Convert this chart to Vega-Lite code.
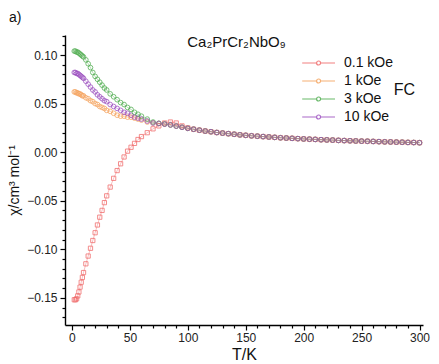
{
  "$schema": "https://vega.github.io/schema/vega-lite/v6.json",
  "width": 358,
  "height": 290,
  "autosize": {"type": "none"},
  "padding": {"left": 65, "top": 35, "right": 16, "bottom": 39},
  "config": {
    "font": "Liberation Sans",
    "view": {"stroke": null},
    "axis": {"grid": false, "domainColor": "#000", "domainWidth": 1.4, "tickColor": "#000", "tickWidth": 1.2, "labelColor": "#222", "labelFontSize": 12, "titleColor": "#111", "titleFontWeight": "normal"}
  },
  "title": {"text": "a)", "anchor": "start", "frame": "group", "dx": -56, "offset": 10, "fontSize": 14, "fontWeight": "normal", "color": "#111"},
  "datasets": {
    "chi": [
      {"T": 2, "a": -0.152, "b": 0.062, "c": 0.104, "d": 0.082},
      {"T": 3, "a": -0.152, "b": 0.062, "c": 0.104, "d": 0.082},
      {"T": 4, "a": -0.151, "b": 0.061, "c": 0.103, "d": 0.081},
      {"T": 5, "a": -0.148, "b": 0.061, "c": 0.103, "d": 0.081},
      {"T": 6, "a": -0.144, "b": 0.060, "c": 0.102, "d": 0.080},
      {"T": 7, "a": -0.139, "b": 0.060, "c": 0.101, "d": 0.079},
      {"T": 8, "a": -0.134, "b": 0.059, "c": 0.100, "d": 0.078},
      {"T": 9, "a": -0.129, "b": 0.058, "c": 0.099, "d": 0.077},
      {"T": 10, "a": -0.124, "b": 0.058, "c": 0.098, "d": 0.076},
      {"T": 12, "a": -0.115, "b": 0.056, "c": 0.095, "d": 0.073},
      {"T": 14, "a": -0.107, "b": 0.055, "c": 0.091, "d": 0.070},
      {"T": 16, "a": -0.099, "b": 0.053, "c": 0.087, "d": 0.067},
      {"T": 18, "a": -0.091, "b": 0.052, "c": 0.082, "d": 0.064},
      {"T": 20, "a": -0.083, "b": 0.050, "c": 0.078, "d": 0.062},
      {"T": 22, "a": -0.075, "b": 0.049, "c": 0.075, "d": 0.059},
      {"T": 24, "a": -0.067, "b": 0.047, "c": 0.072, "d": 0.057},
      {"T": 26, "a": -0.060, "b": 0.046, "c": 0.069, "d": 0.055},
      {"T": 28, "a": -0.052, "b": 0.045, "c": 0.066, "d": 0.053},
      {"T": 30, "a": -0.045, "b": 0.043, "c": 0.064, "d": 0.052},
      {"T": 33, "a": -0.036, "b": 0.042, "c": 0.060, "d": 0.049},
      {"T": 36, "a": -0.027, "b": 0.040, "c": 0.057, "d": 0.047},
      {"T": 39, "a": -0.019, "b": 0.038, "c": 0.054, "d": 0.045},
      {"T": 42, "a": -0.012, "b": 0.037, "c": 0.051, "d": 0.043},
      {"T": 45, "a": -0.005, "b": 0.037, "c": 0.049, "d": 0.041},
      {"T": 48, "a": 0.001, "b": 0.036, "c": 0.046, "d": 0.040},
      {"T": 51, "a": 0.005, "b": 0.036, "c": 0.044, "d": 0.038},
      {"T": 54, "a": 0.009, "b": 0.035, "c": 0.041, "d": 0.036},
      {"T": 57, "a": 0.013, "b": 0.034, "c": 0.039, "d": 0.035},
      {"T": 60, "a": 0.016, "b": 0.033, "c": 0.037, "d": 0.034},
      {"T": 65, "a": 0.020, "b": 0.031, "c": 0.034, "d": 0.032},
      {"T": 70, "a": 0.024, "b": 0.030, "c": 0.031, "d": 0.030},
      {"T": 75, "a": 0.027, "b": 0.0295, "c": 0.0297, "d": 0.0295},
      {"T": 80, "a": 0.030, "b": 0.0288, "c": 0.029, "d": 0.0288},
      {"T": 85, "a": 0.031, "b": 0.028, "c": 0.028, "d": 0.028},
      {"T": 90, "a": 0.030, "b": 0.0268, "c": 0.0268, "d": 0.0268},
      {"T": 95, "a": 0.027, "b": 0.0256, "c": 0.0256, "d": 0.0256},
      {"T": 100, "a": 0.025, "b": 0.0245, "c": 0.0245, "d": 0.0245},
      {"T": 105, "a": 0.0236, "b": 0.0236, "c": 0.0236, "d": 0.0236},
      {"T": 110, "a": 0.0226, "b": 0.0226, "c": 0.0226, "d": 0.0226},
      {"T": 115, "a": 0.0217, "b": 0.0217, "c": 0.0217, "d": 0.0217},
      {"T": 120, "a": 0.0210, "b": 0.0210, "c": 0.0210, "d": 0.0210},
      {"T": 125, "a": 0.0202, "b": 0.0202, "c": 0.0202, "d": 0.0202},
      {"T": 130, "a": 0.0196, "b": 0.0196, "c": 0.0196, "d": 0.0196},
      {"T": 135, "a": 0.0190, "b": 0.0190, "c": 0.0190, "d": 0.0190},
      {"T": 140, "a": 0.0184, "b": 0.0184, "c": 0.0184, "d": 0.0184},
      {"T": 145, "a": 0.0178, "b": 0.0178, "c": 0.0178, "d": 0.0178},
      {"T": 150, "a": 0.0173, "b": 0.0173, "c": 0.0173, "d": 0.0173},
      {"T": 155, "a": 0.0168, "b": 0.0168, "c": 0.0168, "d": 0.0168},
      {"T": 160, "a": 0.0164, "b": 0.0164, "c": 0.0164, "d": 0.0164},
      {"T": 165, "a": 0.0160, "b": 0.0160, "c": 0.0160, "d": 0.0160},
      {"T": 170, "a": 0.0156, "b": 0.0156, "c": 0.0156, "d": 0.0156},
      {"T": 175, "a": 0.0152, "b": 0.0152, "c": 0.0152, "d": 0.0152},
      {"T": 180, "a": 0.0148, "b": 0.0148, "c": 0.0148, "d": 0.0148},
      {"T": 185, "a": 0.0145, "b": 0.0145, "c": 0.0145, "d": 0.0145},
      {"T": 190, "a": 0.0142, "b": 0.0142, "c": 0.0142, "d": 0.0142},
      {"T": 195, "a": 0.0139, "b": 0.0139, "c": 0.0139, "d": 0.0139},
      {"T": 200, "a": 0.0136, "b": 0.0136, "c": 0.0136, "d": 0.0136},
      {"T": 205, "a": 0.0133, "b": 0.0133, "c": 0.0133, "d": 0.0133},
      {"T": 210, "a": 0.0131, "b": 0.0131, "c": 0.0131, "d": 0.0131},
      {"T": 215, "a": 0.0128, "b": 0.0128, "c": 0.0128, "d": 0.0128},
      {"T": 220, "a": 0.0126, "b": 0.0126, "c": 0.0126, "d": 0.0126},
      {"T": 225, "a": 0.0124, "b": 0.0124, "c": 0.0124, "d": 0.0124},
      {"T": 230, "a": 0.0121, "b": 0.0121, "c": 0.0121, "d": 0.0121},
      {"T": 235, "a": 0.0119, "b": 0.0119, "c": 0.0119, "d": 0.0119},
      {"T": 240, "a": 0.0117, "b": 0.0117, "c": 0.0117, "d": 0.0117},
      {"T": 245, "a": 0.0115, "b": 0.0115, "c": 0.0115, "d": 0.0115},
      {"T": 250, "a": 0.0113, "b": 0.0113, "c": 0.0113, "d": 0.0113},
      {"T": 255, "a": 0.0112, "b": 0.0112, "c": 0.0112, "d": 0.0112},
      {"T": 260, "a": 0.0110, "b": 0.0110, "c": 0.0110, "d": 0.0110},
      {"T": 265, "a": 0.0108, "b": 0.0108, "c": 0.0108, "d": 0.0108},
      {"T": 270, "a": 0.0106, "b": 0.0106, "c": 0.0106, "d": 0.0106},
      {"T": 275, "a": 0.0105, "b": 0.0105, "c": 0.0105, "d": 0.0105},
      {"T": 280, "a": 0.0103, "b": 0.0103, "c": 0.0103, "d": 0.0103},
      {"T": 285, "a": 0.0102, "b": 0.0102, "c": 0.0102, "d": 0.0102},
      {"T": 290, "a": 0.0100, "b": 0.0100, "c": 0.0100, "d": 0.0100},
      {"T": 295, "a": 0.0099, "b": 0.0099, "c": 0.0099, "d": 0.0099},
      {"T": 300, "a": 0.0097, "b": 0.0097, "c": 0.0097, "d": 0.0097}
    ],
    "notes": [
      {"T": 142, "chi": 0.113, "label": "Ca₂PrCr₂NbO₉"},
      {"T": 287, "chi": 0.064, "label": "FC"}
    ]
  },
  "layer": [
    {
      "data": {"name": "chi"},
      "transform": [{"fold": ["a", "b", "c", "d"], "as": ["series", "chi"]}],
      "mark": {"type": "line", "strokeWidth": 0.8, "opacity": 0.55},
      "encoding": {
        "x": {"field": "T", "type": "quantitative", "scale": {"domain": [-6, 303], "nice": false, "zero": false},
              "axis": {"orient": "bottom", "values": [0, 50, 100, 150, 200, 250, 300], "tickSize": 5, "labelPadding": 2, "title": "T/K", "titleFontSize": 16, "titlePadding": 3, "labelFlush": false}},
        "y": {"field": "chi", "type": "quantitative", "scale": {"domain": [-0.178, 0.1206], "nice": false, "zero": false},
              "axis": {"orient": "left", "values": [-0.15, -0.1, -0.05, 0, 0.05, 0.1], "format": ".2f", "tickSize": 5, "labelPadding": 3, "title": "χ/cm³ mol⁻¹", "titleFontSize": 14, "titlePadding": 5, "labelFlush": false}},
        "stroke": {"field": "series", "type": "nominal",
                   "scale": {"domain": ["a", "b", "c", "d"], "range": ["#f06a6a", "#f5a35c", "#4fad4f", "#9c4fc0"]},
                   "legend": {"orient": "none", "legendX": 253, "legendY": 19, "title": null,
                              "labelExpr": "datum.label == 'a' ? '0.1 kOe' : datum.label == 'b' ? '1 kOe' : datum.label == 'c' ? '3 kOe' : '10 kOe'",
                              "symbolType": "M-3.1,0H-1.3M-0.8,0H1M-1.3,0A0.25,0.25,0,1,1,-0.8,0A0.25,0.25,0,1,1,-1.3,0",
                              "symbolSize": 256, "symbolStrokeWidth": 1.2, "symbolFillColor": "transparent", "symbolOpacity": 0.7,
                              "labelFontSize": 14, "labelColor": "#111", "labelOffset": 8, "rowPadding": 2}},
        "detail": {"field": "series"}
      }
    },
    {
      "data": {"name": "chi"},
      "transform": [{"fold": ["a"], "as": ["series", "chi"]}],
      "mark": {"type": "point", "shape": "square", "filled": false, "size": 18, "strokeWidth": 0.9, "opacity": 0.85},
      "encoding": {
        "x": {"field": "T", "type": "quantitative", "axis": null},
        "y": {"field": "chi", "type": "quantitative", "axis": null},
        "stroke": {"field": "series", "type": "nominal"}
      }
    },
    {
      "data": {"name": "chi"},
      "transform": [{"fold": ["b", "c", "d"], "as": ["series", "chi"]}],
      "mark": {"type": "point", "shape": "circle", "filled": false, "size": 22, "strokeWidth": 0.9, "opacity": 0.85},
      "encoding": {
        "x": {"field": "T", "type": "quantitative", "axis": null},
        "y": {"field": "chi", "type": "quantitative", "axis": null},
        "stroke": {"field": "series", "type": "nominal"}
      }
    },
    {
      "data": {"name": "notes"},
      "transform": [{"filter": "datum.label == 'FC'"}],
      "mark": {"type": "text", "color": "#111", "align": "center", "baseline": "middle", "fontSize": 16},
      "encoding": {
        "x": {"field": "T", "type": "quantitative", "axis": null},
        "y": {"field": "chi", "type": "quantitative", "axis": null},
        "text": {"field": "label", "type": "nominal"}
      }
    },
    {
      "data": {"name": "notes"},
      "transform": [{"filter": "datum.label != 'FC'"}],
      "mark": {"type": "text", "color": "#111", "align": "center", "baseline": "middle", "fontSize": 15},
      "encoding": {
        "x": {"field": "T", "type": "quantitative",
              "axis": {"orient": "bottom", "values": [10, 20, 30, 40, 60, 70, 80, 90, 110, 120, 130, 140, 160, 170, 180, 190, 210, 220, 230, 240, 260, 270, 280, 290], "tickSize": 3, "labels": false, "domain": false, "title": null}},
        "y": {"field": "chi", "type": "quantitative",
              "axis": {"orient": "left", "values": [-0.17, -0.16, -0.14, -0.13, -0.12, -0.11, -0.09, -0.08, -0.07, -0.06, -0.04, -0.03, -0.02, -0.01, 0.01, 0.02, 0.03, 0.04, 0.06, 0.07, 0.08, 0.09, 0.11, 0.12], "tickSize": 3, "labels": false, "domain": false, "title": null}},
        "text": {"field": "label", "type": "nominal"}
      }
    }
  ],
  "resolve": {"axis": {"x": "independent", "y": "independent"}}
}
